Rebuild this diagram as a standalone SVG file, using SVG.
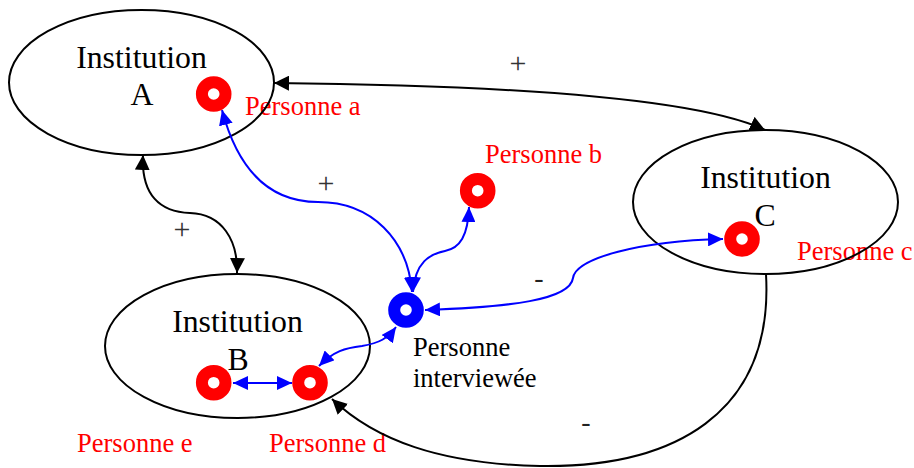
<svg xmlns="http://www.w3.org/2000/svg" width="914" height="468" viewBox="0 0 914 468">
<style>
.inst{fill:none;stroke:#000;stroke-width:2}
.big{font-family:"Liberation Serif","Times New Roman",serif;font-size:31.8px;fill:#000;text-anchor:middle}
.pl{font-family:"Liberation Serif","Times New Roman",serif;font-size:26.5px;fill:#ff0000}
.pb{font-family:"Liberation Serif","Times New Roman",serif;font-size:26.5px;fill:#000}
.sg{font-family:"Liberation Serif","Times New Roman",serif;font-size:30px;fill:#333;text-anchor:middle}
.dg{font-family:"Liberation Serif","Times New Roman",serif;font-size:28px;fill:#222;text-anchor:middle}
.ring{fill:#fff;stroke:#ff0000;stroke-width:12}
.ringb{fill:#fff;stroke:#0000ff;stroke-width:12}
.ck{fill:none;stroke:#000;stroke-width:2}
.cb{fill:none;stroke:#0000ff;stroke-width:2}
</style>
<defs>
<marker id="ak" viewBox="0 0 15 15" refX="15" refY="7.5" markerWidth="15" markerHeight="15" markerUnits="userSpaceOnUse" orient="auto-start-reverse"><path d="M0,0 L15,7.5 L0,15 z" fill="#000"/></marker>
<marker id="ab" viewBox="0 0 15 14" refX="15" refY="7" markerWidth="15" markerHeight="14" markerUnits="userSpaceOnUse" orient="auto-start-reverse"><path d="M0,0 L15,7 L0,14 z" fill="#0000ff"/></marker>
</defs>

<g id="labels-red">
<text class="pl" x="245" y="115">Personne a</text>
<text class="pl" x="485" y="163">Personne b</text>
<text class="pl" x="797" y="260">Personne c</text>
<text class="pl" x="269" y="452">Personne d</text>
<text class="pl" x="77" y="452">Personne e</text>
</g>

<g id="instA">
<ellipse class="inst" cx="141.5" cy="82.5" rx="132.5" ry="72.5"/>
<text class="big" x="141.5" y="68">Institution</text>
<text class="big" x="142" y="105">A</text>
</g>
<g id="instB">
<ellipse class="inst" cx="237.5" cy="346" rx="132.5" ry="72"/>
<text class="big" x="237.5" y="332">Institution</text>
<text class="big" x="238" y="370">B</text>
</g>
<g id="instC">
<ellipse class="inst" cx="765.5" cy="202" rx="132.5" ry="72"/>
<text class="big" x="765.5" y="188">Institution</text>
<text class="big" x="765" y="226">C</text>
</g>

<g id="connectors">
<path class="ck" d="M274,83 C480,85 690,95 765,130" marker-start="url(#ak)" marker-end="url(#ak)"/>
<path class="ck" d="M143,155 C141,195 160,212 190,213 C222,214 238,240 237,273" marker-start="url(#ak)" marker-end="url(#ak)"/>
<path class="ck" d="M766,274 C774,415 672,468 540,466 C440,464 375,440 332,399" marker-end="url(#ak)"/>
<path class="cb" d="M222,110 C238,170 270,202 318,202 C372,202 408,240 412,292" marker-start="url(#ab)" marker-end="url(#ab)"/>
<path class="cb" d="M413,292 C415,262 430,254 445,251 C460,248 468,236 469,207" marker-start="url(#ab)" marker-end="url(#ab)"/>
<path class="cb" d="M425,310 C510,307 570,300 573,278 C576,258 640,241 723,239" marker-start="url(#ab)" marker-end="url(#ab)"/>
<path class="cb" d="M319,366 C334,351 345,348 362,346 C380,343 388,338 396,327" marker-start="url(#ab)" marker-end="url(#ab)"/>
<path class="cb" d="M233,383 L292,383" marker-start="url(#ab)" marker-end="url(#ab)"/>
<text class="sg" x="518" y="72.7">+</text>
<text class="sg" x="326" y="192.7">+</text>
<text class="sg" x="182" y="239.4">+</text>
<text class="dg" x="539" y="287">-</text>
<text class="dg" x="586" y="431">-</text>
</g>

<g id="personne-a"><circle class="ring" cx="213.7" cy="94" r="11.8"/></g>
<g id="personne-b"><circle class="ring" cx="477.7" cy="190.7" r="11.8"/></g>
<g id="personne-c"><circle class="ring" cx="742" cy="239" r="11.8"/></g>
<g id="personne-d"><circle class="ring" cx="310" cy="382.7" r="11.8"/></g>
<g id="personne-e"><circle class="ring" cx="213.7" cy="382.7" r="11.8"/></g>
<g id="interviewee">
<circle class="ringb" cx="406" cy="310" r="11.8"/>
<text class="pb" x="413" y="356">Personne</text>
<text class="pb" x="413" y="387">interviewée</text>
</g>
</svg>
